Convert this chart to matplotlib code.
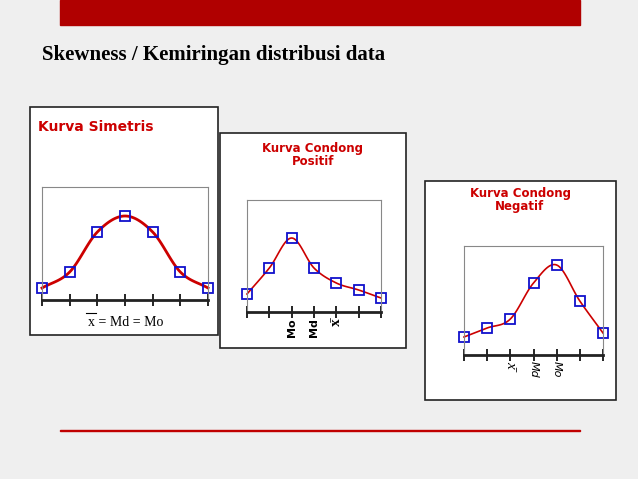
import numpy as np
import matplotlib.pyplot as plt
from matplotlib.patches import Rectangle

W, H = 638, 479

# heights of the points above the axis line (pixel units of the slide)
x_pos = [0, 1, 2, 3, 4, 5, 6]
simetris = [12, 28, 68, 84, 68, 28, 12]
positif = [18, 44, 74, 44, 29, 22, 14]
negatif = [18, 27, 36, 72, 90, 54, 22]

pos_labels = {2: "Mo", 3: "Md", 4: "x̄"}
neg_labels = {2: "x̄", 3: "Md", 4: "Mo"}


def fx(px):
    return px / W


def fy(py):
    return 1 - py / H


def smooth(xs, ys, n=20):
    # catmull-rom spline through the points, for the drawn curve only
    xs = np.asarray(xs, float)
    ys = np.asarray(ys, float)
    px = np.concatenate([[2 * xs[0] - xs[1]], xs, [2 * xs[-1] - xs[-2]]])
    py = np.concatenate([[2 * ys[0] - ys[1]], ys, [2 * ys[-1] - ys[-2]]])
    out_x, out_y = [], []
    t = np.linspace(0, 1, n)
    for i in range(1, len(px) - 2):
        for p, o in ((px, out_x), (py, out_y)):
            p0, p1, p2, p3 = p[i - 1], p[i], p[i + 1], p[i + 2]
            o.extend(0.5 * (2 * p1 + (-p0 + p2) * t + (2 * p0 - 5 * p1 + 4 * p2 - p3) * t ** 2
                            + (-p0 + 3 * p1 - 3 * p2 + p3) * t ** 3))
    return out_x, out_y


fig = plt.figure(figsize=(W / 100, H / 100), dpi=100)
fig.patch.set_facecolor("#efefef")

fig.patches.append(Rectangle((fx(60), fy(25)), fx(520), 25 / H, transform=fig.transFigure,
                             color="#b00000", zorder=-5))
fig.patches.append(Rectangle((fx(60), fy(431)), fx(520), 1.5 / H, transform=fig.transFigure,
                             color="#c00000", zorder=-5))
fig.text(fx(42), fy(55), "Skewness / Kemiringan distribusi data", fontsize=15,
         family="Liberation Serif", weight="bold", va="center")


def panel(box, inner, values, labels=None, italic=False):
    x0, y0, x1, y1 = box
    fig.patches.append(Rectangle((fx(x0), fy(y1)), fx(x1 - x0), (y1 - y0) / H,
                                 transform=fig.transFigure, facecolor="white",
                                 edgecolor="#222222", lw=1.2, zorder=-5))
    ix0, iy0, ix1, iy1 = inner
    ax = fig.add_axes([fx(ix0), fy(iy1), fx(ix1 - ix0), (iy1 - iy0) / H])
    ax.set_zorder(2)
    ax.set_facecolor("white")
    ax.set_xlim(0, 6)
    ax.set_ylim(0, iy1 - iy0)
    cx, cy = smooth(x_pos, values)
    ax.plot(cx, cy, color="#cc0000", lw=2 if not labels else 1.2, clip_on=False)
    ax.plot(x_pos, values, "s", ms=7, mfc="none", mec="#1010cc", mew=1.3, clip_on=False)
    for s in ("top", "right", "left"):
        ax.spines[s].set_color("#888888")
    ax.spines["bottom"].set_color("#222222")
    ax.spines["bottom"].set_linewidth(2)
    ax.set_yticks([])
    ax.set_xticks(x_pos)
    ax.tick_params(axis="x", direction="inout", length=8, width=1.2, labelbottom=False)
    if labels:
        for k, lab in labels.items():
            ax.text(k, -6, lab, rotation=90 if not italic else -90, ha="center", va="top",
                    fontsize=8 if lab != "x̄" else 11, weight="bold" if not italic else "normal",
                    style="italic" if italic else "normal",
                    family="Liberation Serif" if lab == "x̄" else "DejaVu Sans")
    return ax


panel((30, 107, 218, 335), (42, 187, 208, 300), simetris)
fig.text(fx(38), fy(127), "Kurva Simetris", color="#cc0000", fontsize=10, weight="bold",
         va="center")
fig.text(fx(88), fy(322), "x = Md = Mo", family="Liberation Serif", fontsize=10, va="center")
fig.lines.append(plt.Line2D([fx(86), fx(96)], [fy(313), fy(313)], transform=fig.transFigure,
                            color="black", lw=0.8))

panel((220, 133, 406, 348), (247, 200, 381, 312), positif, pos_labels)
fig.text(fx(313), fy(155), "Kurva Condong\nPositif", color="#cc0000", fontsize=8.5,
         weight="bold", ha="center", va="center", linespacing=1.0)

panel((425, 181, 616, 400), (464, 246, 603, 355), negatif, neg_labels, italic=True)
fig.text(fx(520), fy(200), "Kurva Condong\nNegatif", color="#cc0000", fontsize=8.5,
         weight="bold", ha="center", va="center", linespacing=1.0)

fig.savefig("out.png", dpi=100, facecolor=fig.get_facecolor())
